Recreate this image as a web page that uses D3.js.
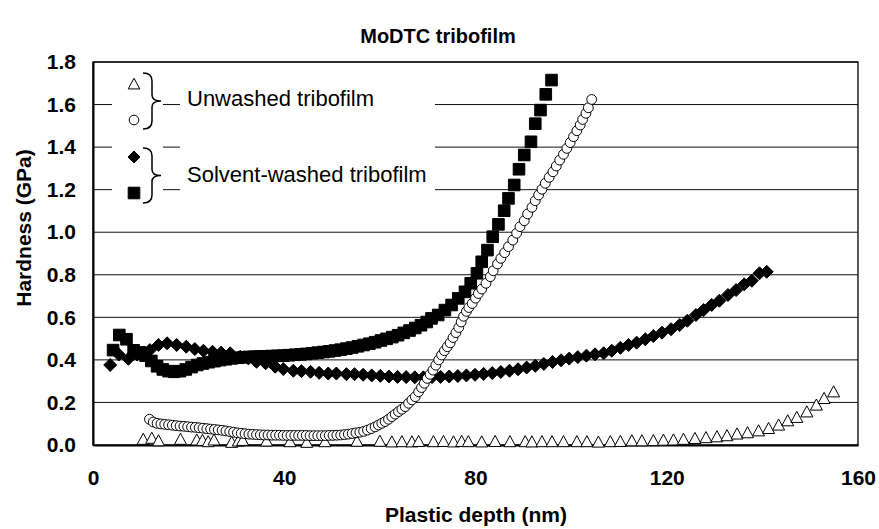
<!DOCTYPE html>
<html>
<head>
<meta charset="utf-8">
<script src="https://cdn.jsdelivr.net/npm/d3@7"></script>
<style>
	body { margin: 0; background: #fff; }
	text { font-family: 'Liberation Sans', Arial, sans-serif; }
</style>
</head>
<body>
<svg id="chart" width="879" height="529"></svg>
<script>
// unwashed tribofilm, open triangles
let triX = [10.5, 12.3, 13.7, 18.3, 21.7, 22.9, 24.1, 25.3, 29.0, 30.4, 31.3, 36.3, 41.2, 44.7, 48.5, 55.2,
	60.0, 62.5, 64.6, 66.7, 68.1, 71.2, 73.3, 75.4, 77.1, 78.5, 81.3, 84.1, 87.2, 90.4, 91.8, 93.9, 96.0, 98.4,
	101.2, 103.3, 105.7, 108.2, 110.3, 112.7, 114.8, 117.2, 119.3, 121.4, 123.5, 125.9, 128.2, 130.5, 132.6,
	134.7, 136.9, 139.2, 141.3, 143.4, 145.3, 147.2, 149.3, 151.3, 152.9, 154.9];
let triY = [0.027, 0.032, 0.020, 0.027, 0.024, 0.022, 0.016, 0.024, 0.013, 0.019, 0.022, 0.019, 0.016, 0.013, 0.016, 0.018,
	0.018, 0.015, 0.016, 0.015, 0.017, 0.016, 0.017, 0.015, 0.017, 0.016, 0.015, 0.017, 0.016, 0.016, 0.015, 0.016, 0.016, 0.016,
	0.016, 0.016, 0.014, 0.016, 0.017, 0.020, 0.020, 0.021, 0.023, 0.024, 0.027, 0.031, 0.035, 0.039, 0.044,
	0.052, 0.058, 0.067, 0.078, 0.094, 0.114, 0.130, 0.156, 0.188, 0.219, 0.250];

// unwashed tribofilm, open circles
let circX = [11.8, 12.6, 13.4, 14.2, 15.0, 15.8, 16.6, 17.4, 18.2, 19.0, 19.8, 20.6, 21.4, 22.2, 23.0, 23.8, 24.6, 25.4,
	26.2, 27.0, 27.8, 28.6, 29.4, 30.2, 31.0, 31.8, 32.6, 33.4, 34.2, 35.0, 35.8, 36.6, 37.4, 38.2, 39.0, 39.8, 40.6,
	41.4, 42.2, 43.0, 43.8, 44.6, 45.4, 46.2, 47.0, 47.8, 48.6, 49.4, 50.2, 51.0, 51.8, 52.6, 53.4, 54.2, 55.0, 55.8,
	56.6, 57.4, 58.2, 59.0, 59.7, 60.4, 61.1, 61.8, 62.5, 63.2, 63.9, 64.6, 65.3, 66.0, 66.7, 67.4, 68.1, 68.7, 69.3,
	69.9, 70.5, 71.1, 71.7, 72.3, 72.9, 73.5, 74.1, 74.7, 75.3, 75.9, 76.5, 77.0, 77.5, 78.1, 78.6, 79.3, 80.0, 80.6,
	81.3, 82.2, 83.1, 83.7, 84.6, 85.3, 86.1, 86.9, 87.8, 88.6, 89.3, 90.2, 90.9, 91.8, 92.5, 93.2, 93.9, 94.6, 95.4,
	96.2, 96.9, 97.6, 98.4, 99.1, 99.8, 100.5, 101.2, 101.9, 102.4, 103.1, 103.6, 104.3];
let circY = [0.121, 0.108, 0.102, 0.099, 0.097, 0.095, 0.093, 0.091, 0.089, 0.088, 0.086, 0.084, 0.083, 0.081, 0.079, 0.077, 0.075, 0.073,
	0.071, 0.069, 0.066, 0.063, 0.060, 0.057, 0.055, 0.053, 0.051, 0.050, 0.049, 0.048, 0.047, 0.047, 0.046, 0.046, 0.046, 0.045, 0.045,
	0.045, 0.045, 0.045, 0.045, 0.045, 0.044, 0.044, 0.044, 0.044, 0.044, 0.045, 0.045, 0.046, 0.047, 0.049, 0.051, 0.054, 0.057, 0.060,
	0.064, 0.070, 0.077, 0.085, 0.094, 0.102, 0.110, 0.121, 0.133, 0.145, 0.157, 0.168, 0.180, 0.196, 0.212, 0.227, 0.250, 0.270, 0.290,
	0.313, 0.332, 0.352, 0.375, 0.400, 0.423, 0.443, 0.462, 0.480, 0.505, 0.528, 0.552, 0.578, 0.605, 0.628, 0.646, 0.665, 0.690, 0.712,
	0.733, 0.760, 0.791, 0.819, 0.851, 0.877, 0.904, 0.932, 0.963, 0.995, 1.026, 1.054, 1.086, 1.117, 1.148, 1.175, 1.202, 1.230, 1.258,
	1.284, 1.311, 1.339, 1.366, 1.394, 1.421, 1.449, 1.477, 1.504, 1.530, 1.559, 1.585, 1.624];

// solvent-washed tribofilm, filled diamonds
let diaX = [3.6, 5.4, 7.4, 9.2, 10.6, 11.9, 13.7, 15.5, 17.5, 19.5, 21.3, 23.1, 25.0, 26.8, 28.7, 30.8, 32.5, 34.2,
	36.1, 38.1, 39.8, 41.9, 43.6, 45.5, 47.3, 49.2, 50.9, 53.0, 54.7, 56.5, 58.3, 60.1, 61.9, 63.7, 65.5, 67.3, 69.1,
	70.9, 72.7, 74.5, 76.3, 78.1, 79.9, 81.7, 83.5, 85.3, 87.1, 88.9, 90.7, 92.5, 94.3, 96.1, 97.9, 99.6, 101.4, 103.2,
	105.0, 106.8, 108.5, 110.3, 112.0, 113.7, 115.5, 117.2, 119.0, 120.9, 122.7, 124.3, 126.1, 127.7, 129.4, 131.0,
	132.8, 134.5, 136.2, 137.8, 139.4, 140.9];
let diaY = [0.376, 0.425, 0.405, 0.425, 0.435, 0.446, 0.470, 0.478, 0.470, 0.462, 0.451, 0.443, 0.438, 0.434, 0.431, 0.415, 0.407, 0.391,
	0.384, 0.368, 0.357, 0.349, 0.347, 0.344, 0.339, 0.336, 0.336, 0.333, 0.333, 0.330, 0.327, 0.325, 0.322, 0.320, 0.319, 0.318, 0.318,
	0.319, 0.320, 0.322, 0.324, 0.327, 0.330, 0.334, 0.338, 0.343, 0.349, 0.356, 0.364, 0.372, 0.381, 0.390, 0.398, 0.406, 0.413, 0.420,
	0.426, 0.431, 0.443, 0.457, 0.470, 0.481, 0.497, 0.512, 0.528, 0.544, 0.564, 0.584, 0.611, 0.634, 0.658, 0.678,
	0.705, 0.728, 0.755, 0.772, 0.807, 0.814];

// solvent-washed tribofilm, filled squares
let sqX = [4.2, 5.5, 7.0, 8.5, 9.8, 11.0, 12.2, 13.4, 14.6, 15.8, 17.0, 18.2, 19.4, 20.6, 21.8, 23.0, 24.2, 25.4,
	26.6, 27.8, 29.0, 30.2, 31.4, 32.6, 33.8, 35.0, 36.2, 37.4, 38.6, 39.8, 41.0, 42.2, 43.4, 44.6, 45.8, 47.0, 48.2,
	49.4, 50.6, 51.8, 53.0, 54.2, 55.4, 56.6, 57.8, 59.0, 60.2, 61.4, 62.6, 63.8, 65.0, 66.2, 67.4, 68.6, 69.8, 70.8,
	72.2, 73.6, 75.0, 76.4, 77.8, 79.0, 80.3, 81.3, 82.5, 83.6, 84.8, 86.0, 86.9, 88.1, 89.1, 90.2, 91.6, 92.5, 93.6,
	94.7, 95.9];
let sqY = [0.446, 0.517, 0.497, 0.445, 0.435, 0.420, 0.395, 0.370, 0.355, 0.347, 0.344, 0.347, 0.355, 0.366, 0.376, 0.383, 0.389, 0.394,
	0.399, 0.403, 0.407, 0.410, 0.412, 0.414, 0.415, 0.416, 0.417, 0.418, 0.419, 0.420, 0.422, 0.424, 0.426, 0.428, 0.431, 0.434, 0.437,
	0.440, 0.444, 0.448, 0.453, 0.458, 0.464, 0.470, 0.476, 0.483, 0.491, 0.499, 0.507, 0.516, 0.527, 0.538, 0.550, 0.563, 0.578, 0.595,
	0.611, 0.634, 0.658, 0.689, 0.720, 0.760, 0.807, 0.861, 0.916, 0.979, 1.037, 1.101, 1.159, 1.222, 1.296, 1.363, 1.425, 1.510, 1.574,
	1.648, 1.715];

let xTicks = [0, 40, 80, 120, 160];
let yTicks = [0, 0.2, 0.4, 0.6, 0.8, 1.0, 1.2, 1.4, 1.6, 1.8];
let legendGroups = ['Unwashed tribofilm', 'Solvent-washed tribofilm'];

let svg = d3.select('#chart');
let plotLeft = 93, plotRight = 858, plotTop = 62, plotBottom = 445;

let x = d3
	.scaleLinear()
	.domain([0, 160])
	.range([plotLeft, plotRight]);

let y = d3
	.scaleLinear()
	.domain([0, 1.8])
	.range([plotBottom, plotTop]);

function marker(type, s) {
	if (type == 'square') return `M${-s},${-s}H${s}V${s}H${-s}Z`;
	if (type == 'diamond') return `M0,${-s}L${s},0L0,${s}L${-s},0Z`;
	if (type == 'triangle') return `M0,${-s}L${s},${s * 0.85}L${-s},${s * 0.85}Z`;
	return `M${s},0A${s},${s} 0 1,1 ${-s},0A${s},${s} 0 1,1 ${s},0Z`;
}

svg.append('rect')
	.attr('width', 879)
	.attr('height', 529)
	.attr('fill', '#fff');

// gridlines
svg.append('g')
	.selectAll('line')
	.data(yTicks.slice(1))
	.enter()
	.append('line')
	.attr('x1', plotLeft)
	.attr('x2', plotRight)
	.attr('y1', d => y(d))
	.attr('y2', d => y(d))
	.attr('stroke', '#111')
	.attr('stroke-width', 1);

// frame
svg.append('rect')
	.attr('x', plotLeft)
	.attr('y', plotTop)
	.attr('width', plotRight - plotLeft)
	.attr('height', plotBottom - plotTop)
	.attr('fill', 'none')
	.attr('stroke', '#000')
	.attr('stroke-width', 1.3);

let yAxis = d3.axisLeft(y).tickValues(yTicks).tickSize(0).tickPadding(17).tickFormat(d3.format('.1f'));
let xAxis = d3.axisBottom(x).tickValues(xTicks).tickSize(0).tickPadding(25).tickFormat(d3.format('d'));

let gy = svg.append('g')
	.attr('transform', 'translate(' + plotLeft + ',0)')
	.call(yAxis);
let gx = svg.append('g')
	.attr('transform', 'translate(0,' + plotBottom + ')')
	.call(xAxis);

[gx, gy].forEach(g => {
	g.select('.domain').attr('stroke', '#000').attr('stroke-width', 2);
	g.selectAll('text')
		.attr('font-family', "'Liberation Sans', Arial, sans-serif")
		.attr('font-size', 21)
		.attr('font-weight', 'bold')
		.attr('fill', '#000');
});

// legend boxes hide the gridlines behind them
svg.append('rect').attr('x', 112).attr('y', 66).attr('width', 51).attr('height', 142).attr('fill', '#fff');
svg.append('rect').attr('x', 180).attr('y', 66).attr('width', 255).attr('height', 142).attr('fill', '#fff');

let series = [
	{ xs: diaX, ys: diaY, type: 'diamond', s: 6.5, fill: '#000' },
	{ xs: sqX, ys: sqY, type: 'square', s: 5.8, fill: '#000' },
	{ xs: triX, ys: triY, type: 'triangle', s: 6, fill: '#fff' },
	{ xs: circX, ys: circY, type: 'circle', s: 4.9, fill: '#fff' }
];

series.forEach(ser => {
	svg.append('g')
		.selectAll('path')
		.data(ser.xs.map((v, i) => [v, ser.ys[i]]))
		.enter()
		.append('path')
		.attr('d', marker(ser.type, ser.s))
		.attr('transform', d => 'translate(' + x(d[0]) + ',' + y(d[1]) + ')')
		.attr('fill', ser.fill)
		.attr('stroke', '#000')
		.attr('stroke-width', 1);
});

// legend
let legendRows = [
	{ type: 'triangle', s: 5.8, fill: '#fff', ly: 84 },
	{ type: 'circle', s: 4.8, fill: '#fff', ly: 120 },
	{ type: 'diamond', s: 6, fill: '#000', ly: 157 },
	{ type: 'square', s: 5.8, fill: '#000', ly: 193 }
];

svg.append('g')
	.selectAll('path')
	.data(legendRows)
	.enter()
	.append('path')
	.attr('d', d => marker(d.type, d.s))
	.attr('transform', d => 'translate(134,' + d.ly + ')')
	.attr('fill', d => d.fill)
	.attr('stroke', '#000')
	.attr('stroke-width', 1);

function brace(y0, y1) {
	let m = (y0 + y1) / 2;
	return `M143,${y0} Q152,${y0} 152,${y0 + 8} L152,${m - 6} Q152,${m} 161,${m}` +
		` Q152,${m} 152,${m + 6} L152,${y1 - 8} Q152,${y1} 143,${y1}`;
}

svg.append('g')
	.selectAll('path')
	.data([[73, 129], [148, 203]])
	.enter()
	.append('path')
	.attr('d', d => brace(d[0], d[1]))
	.attr('fill', 'none')
	.attr('stroke', '#000')
	.attr('stroke-width', 1.5);

svg.append('g')
	.selectAll('text')
	.data(legendGroups)
	.enter()
	.append('text')
	.attr('x', 187)
	.attr('y', (d, i) => i == 0 ? 106 : 182)
	.attr('font-size', 22)
	.attr('fill', '#000')
	.text(d => d);

svg.append('text')
	.attr('x', 438)
	.attr('y', 43)
	.attr('text-anchor', 'middle')
	.attr('font-size', 20)
	.attr('font-weight', 'bold')
	.text('MoDTC tribofilm');

svg.append('text')
	.attr('x', 476)
	.attr('y', 522)
	.attr('text-anchor', 'middle')
	.attr('font-size', 21)
	.attr('font-weight', 'bold')
	.text('Plastic depth (nm)');

svg.append('text')
	.attr('transform', 'translate(31,' + 228 + ') rotate(-90)')
	.attr('text-anchor', 'middle')
	.attr('font-size', 21)
	.attr('font-weight', 'bold')
	.text('Hardness (GPa)');
</script>
</body>
</html>
